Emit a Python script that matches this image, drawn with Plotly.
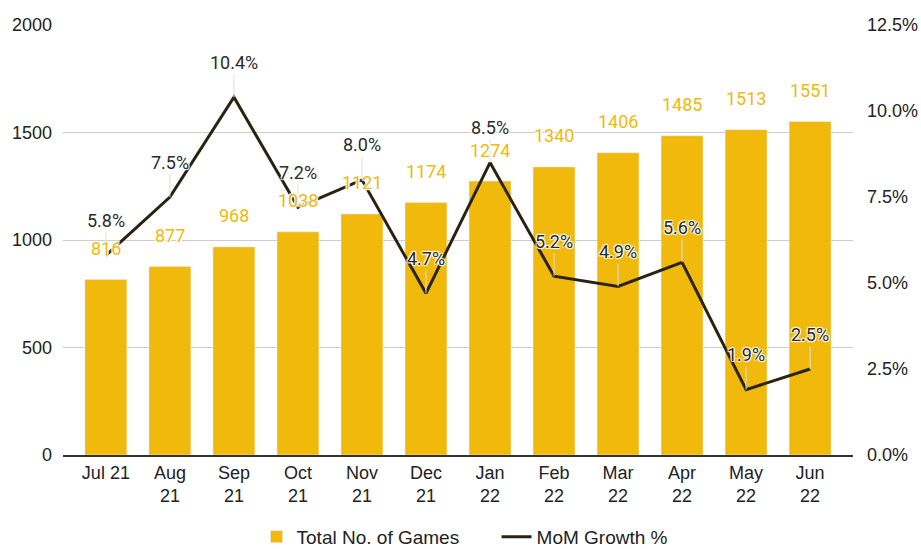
import plotly.graph_objects as go

months = ["Jul 21", "Aug<br>21", "Sep<br>21", "Oct<br>21", "Nov<br>21", "Dec<br>21",
          "Jan<br>22", "Feb<br>22", "Mar<br>22", "Apr<br>22", "May<br>22", "Jun<br>22"]
total_games = [816, 877, 968, 1038, 1121, 1174, 1274, 1340, 1406, 1485, 1513, 1551]
mom_growth = [5.8, 7.5, 10.4, 7.2, 8.0, 4.7, 8.5, 5.2, 4.9, 5.6, 1.9, 2.5]

GOLD = "#F0B90B"
DARK = "#2B2312"
AXIS_FONT = "Liberation Sans, Arial"
halo = "1px 1px 1px #fff, -1px -1px 1px #fff, 1px -1px 1px #fff, -1px 1px 1px #fff"

fig = go.Figure()
fig.add_trace(go.Bar(x=months, y=total_games, name="Total No. of Games",
                     marker_color=GOLD, width=0.655))
fig.add_trace(go.Scatter(x=months, y=mom_growth, name="MoM Growth %", yaxis="y2",
                         mode="lines", line=dict(color=DARK, width=3)))

# line labels with leader lines
for m, g in zip(months, mom_growth):
    fig.add_annotation(x=m, y=g, yref="y2", text=f"{g:.1f}%", showarrow=True,
                       arrowhead=0, arrowcolor="#dddddd", arrowwidth=1, ax=0, ay=-35,
                       font=dict(family="Roboto", size=18, color="#2b2b2b", shadow=halo))

# bar labels
for m, v in zip(months, total_games):
    fig.add_annotation(x=m, y=v, yref="y", text=str(v), showarrow=False, yshift=31,
                       font=dict(family="Roboto", size=18, color=GOLD, shadow=halo))

fig.update_layout(
    width=921, height=549,
    margin=dict(l=63, r=68, t=25, b=94, autoexpand=False),
    plot_bgcolor="white", paper_bgcolor="white",
    font=dict(family=AXIS_FONT, size=18, color="#222222"),
    showlegend=True,
    legend=dict(orientation="h", x=0.245, xanchor="left", y=-0.146, yanchor="top",
                entrywidth=195, entrywidthmode="pixels",
                font=dict(family=AXIS_FONT, size=19, color="#222222")),
    xaxis=dict(range=[-0.67, 11.67], showline=True, linecolor="#333333", linewidth=2,
               tickfont=dict(size=18)),
    yaxis=dict(range=[0, 2000], dtick=500, gridcolor="#cccccc", zeroline=False,
               ticks="", ticklabelstandoff=10),
    yaxis2=dict(range=[0, 12.5], dtick=2.5, tickformat=".1f", ticksuffix="%",
                overlaying="y", side="right", showgrid=False, zeroline=False,
                ticklabelstandoff=13),
)

fig.write_html("out.html", config={"displayModeBar": False},
               post_script="document.body.style.margin='0px';")
